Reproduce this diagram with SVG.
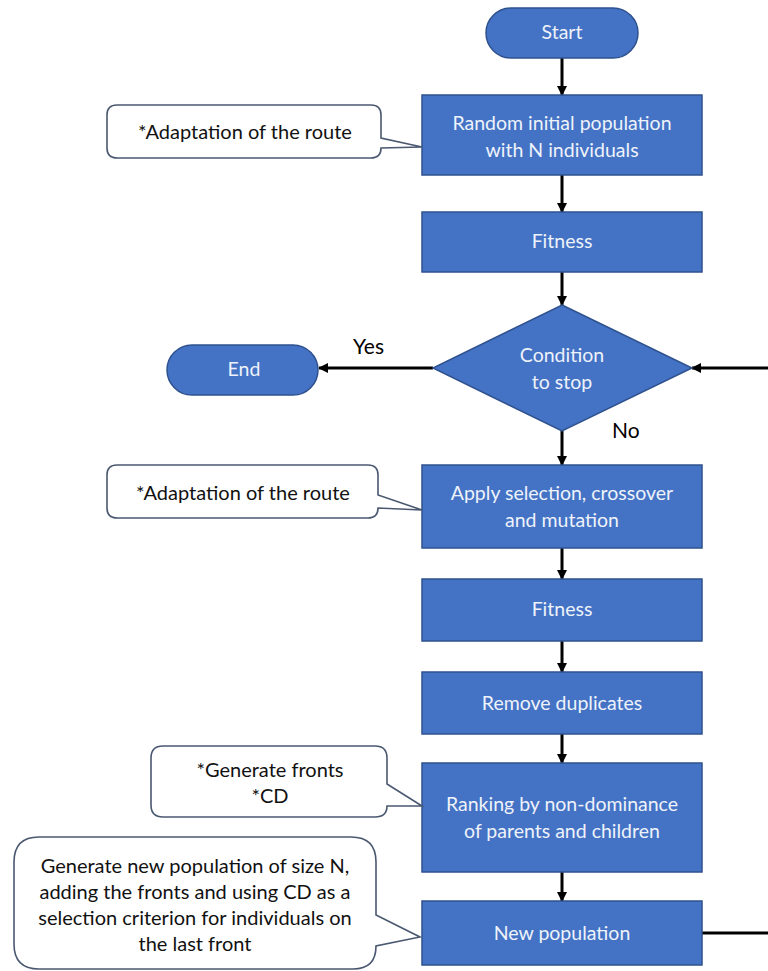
<svg xmlns="http://www.w3.org/2000/svg" width="768" height="971" viewBox="0 0 768 971">
<defs>
<marker id="ah" markerWidth="10" markerHeight="10" refX="9" refY="5" orient="auto" markerUnits="userSpaceOnUse">
<path d="M0,0 L10,5 L0,10 Z" fill="#000"/>
</marker>
<style>
.n{fill:#4472C4;stroke:#2F528F;stroke-width:1.5}
.nt{font-family:Lato,"Open Sans","Liberation Sans",sans-serif;font-size:19.5px;fill:#EEF3FB;text-anchor:middle}
.c{fill:#fff;stroke:#4A5870;stroke-width:1.6}
.ct{font-family:Lato,"Open Sans","Liberation Sans",sans-serif;font-size:20px;fill:#111;text-anchor:middle}
.e{stroke:#000;stroke-width:3;fill:none}
.lb{font-family:Lato,"Open Sans","Liberation Sans",sans-serif;font-size:21px;fill:#000}
</style>
</defs>
<rect width="768" height="971" fill="#fff"/>
<g id="connectors">
<line class="e" x1="562" y1="58" x2="562" y2="95" marker-end="url(#ah)"/>
<line class="e" x1="562" y1="175" x2="562" y2="212" marker-end="url(#ah)"/>
<line class="e" x1="562" y1="272" x2="562" y2="305" marker-end="url(#ah)"/>
<line class="e" x1="562" y1="431" x2="562" y2="465" marker-end="url(#ah)"/>
<line class="e" x1="562" y1="548" x2="562" y2="579" marker-end="url(#ah)"/>
<line class="e" x1="562" y1="641" x2="562" y2="672" marker-end="url(#ah)"/>
<line class="e" x1="562" y1="734" x2="562" y2="763" marker-end="url(#ah)"/>
<line class="e" x1="562" y1="872" x2="562" y2="901" marker-end="url(#ah)"/>
<line class="e" x1="433" y1="368" x2="319" y2="368" marker-end="url(#ah)"/>
<line class="e" x1="768" y1="368" x2="692" y2="368" marker-end="url(#ah)"/>
<line class="e" x1="702" y1="933" x2="768" y2="933"/>
<text class="lb" x="353" y="354">Yes</text>
<text class="lb" x="612" y="438">No</text>
</g>
<g id="start"><rect class="n" x="486" y="8" width="152" height="50" rx="25"/><text class="nt" x="562" y="39">Start</text></g>
<g id="init"><rect class="n" x="422" y="95" width="280" height="80"/><text class="nt" x="562" y="130">Random initial population</text><text class="nt" x="562" y="157">with N individuals</text></g>
<g id="fitness1"><rect class="n" x="422" y="212" width="280" height="60"/><text class="nt" x="562" y="248">Fitness</text></g>
<g id="cond"><polygon class="n" points="562,305 692,368 562,431 433,368"/><text class="nt" x="562" y="362">Condition</text><text class="nt" x="562" y="389">to stop</text></g>
<g id="end"><rect class="n" x="167" y="345" width="151" height="50" rx="25"/><text class="nt" x="244" y="376">End</text></g>
<g id="apply"><rect class="n" x="422" y="465" width="280" height="83"/><text class="nt" x="562" y="500">Apply selection, crossover</text><text class="nt" x="562" y="527">and mutation</text></g>
<g id="fitness2"><rect class="n" x="422" y="579" width="280" height="62"/><text class="nt" x="562" y="616">Fitness</text></g>
<g id="dup"><rect class="n" x="422" y="672" width="280" height="62"/><text class="nt" x="562" y="710">Remove duplicates</text></g>
<g id="rank"><rect class="n" x="422" y="763" width="280" height="109"/><text class="nt" x="562" y="811">Ranking by non-dominance</text><text class="nt" x="562" y="838">of parents and children</text></g>
<g id="newpop"><rect class="n" x="422" y="901" width="280" height="64"/><text class="nt" x="562" y="940">New population</text></g>
<g id="note1"><path class="c" d="M117,105 H371 Q381,105 381,115 V138 L422,147 L381,148 Q381,158 371,158 H117 Q107,158 107,148 V115 Q107,105 117,105 Z"/><text class="ct" x="245" y="139">*Adaptation of the route</text></g>
<g id="note2"><path class="c" d="M117,465 H368 Q378,465 378,475 V495 L422,510 L378,508 Q378,518 368,518 H117 Q107,518 107,508 V475 Q107,465 117,465 Z"/><text class="ct" x="243" y="500">*Adaptation of the route</text></g>
<g id="note3"><path class="c" d="M163,746 H375 Q387,746 387,758 V784 L422,806 L387,806 Q387,817 375,817 H163 Q151,817 151,805 V758 Q151,746 163,746 Z"/><text class="ct" x="270" y="777">*Generate fronts</text><text class="ct" x="270" y="803">*CD</text></g>
<g id="note4"><path class="c" d="M39,837 H351 Q376,837 376,862 V915 L420,937 L376,946 Q376,969 353,969 H39 Q14,969 14,944 V862 Q14,837 39,837 Z"/><text class="ct" x="195" y="873">Generate new population of size N,</text><text class="ct" x="195" y="899">adding the fronts and using CD as a</text><text class="ct" x="195" y="925">selection criterion for individuals on</text><text class="ct" x="195" y="951">the last front</text></g>
</svg>
